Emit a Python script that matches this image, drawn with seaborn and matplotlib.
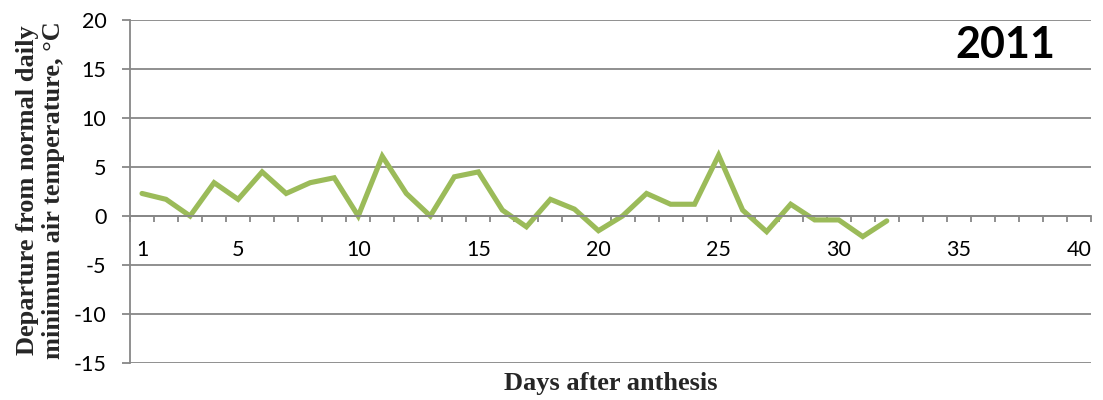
import numpy as np
import pandas as pd
import matplotlib
matplotlib.use("Agg")
import matplotlib.pyplot as plt
import seaborn as sns
from matplotlib.ticker import FixedLocator

days = list(range(1, 33))
departure = [2.3, 1.7, 0.0, 3.4, 1.7, 4.5, 2.3, 3.4, 3.9, 0.0,
             6.1, 2.3, 0.0, 4.0, 4.5, 0.6, -1.1, 1.7, 0.7, -1.5,
             0.0, 2.3, 1.2, 1.2, 6.2, 0.6, -1.6, 1.2, -0.4, -0.4,
             -2.1, -0.5]
x_tick_labels = [1, 5, 10, 15, 20, 25, 30, 35, 40]
y_ticks = [-15, -10, -5, 0, 5, 10, 15, 20]
year_label = "2011"

sns.set_theme(style="white")
plt.rcParams['font.family'] = ['Lato', 'DejaVu Sans']

df = pd.DataFrame({"day": days, "dep": departure})

fig = plt.figure(figsize=(11.03, 4.0), dpi=100)
ax = fig.add_axes([130/1103, 1-363/400, (1091-130)/1103, (363-20)/400])

sns.lineplot(data=df, x="day", y="dep", ax=ax, color="#9BBB59", linewidth=3.7,
             solid_joinstyle="miter")

gray = "#878787"
ax.set_xlim(0.5, 40.5)
ax.set_ylim(-15, 20)
ax.set_yticks(y_ticks)
ax.set_yticklabels([str(v) for v in y_ticks])
ax.set_xticks(x_tick_labels)
ax.set_xticklabels([str(v) for v in x_tick_labels])
ax.xaxis.set_minor_locator(FixedLocator(np.arange(0.5, 41, 1)))

for y in y_ticks:
    ax.axhline(y, color=gray, linewidth=1.3, zorder=0)

ax.spines['top'].set_visible(False)
ax.spines['right'].set_visible(False)
ax.spines['left'].set_color(gray)
ax.spines['left'].set_linewidth(1.3)
ax.spines['bottom'].set_position(('data', 0))
ax.spines['bottom'].set_color(gray)
ax.spines['bottom'].set_linewidth(1.3)

ax.tick_params(axis='y', which='major', direction='out', length=6, width=1.3,
               color=gray, pad=11, labelsize=15.5, labelcolor='black', left=True)
ax.tick_params(axis='x', which='major', length=0, pad=17, labelsize=15.5,
               labelcolor='black', bottom=True)
ax.tick_params(axis='x', which='minor', direction='out', length=4, width=1.3,
               color=gray, bottom=True)

ax.set_xlabel("Days after anthesis", fontsize=19, fontweight='bold',
              family=['Liberation Serif'], labelpad=0)
ax.xaxis.set_label_coords(0.5, -0.026)
ax.set_ylabel("Departure from normal daily\nminimum air temperature, \u00b0C",
              fontsize=19, fontweight='bold', family=['Liberation Serif'],
              linespacing=1.12)
ax.yaxis.set_label_coords(-0.068, 0.505)

fig.text(1005/1103, 1-45/400, year_label, fontsize=31, fontweight='bold',
         ha='center', va='center', color='black')

fig.savefig("out.png", dpi=100, facecolor='white')
